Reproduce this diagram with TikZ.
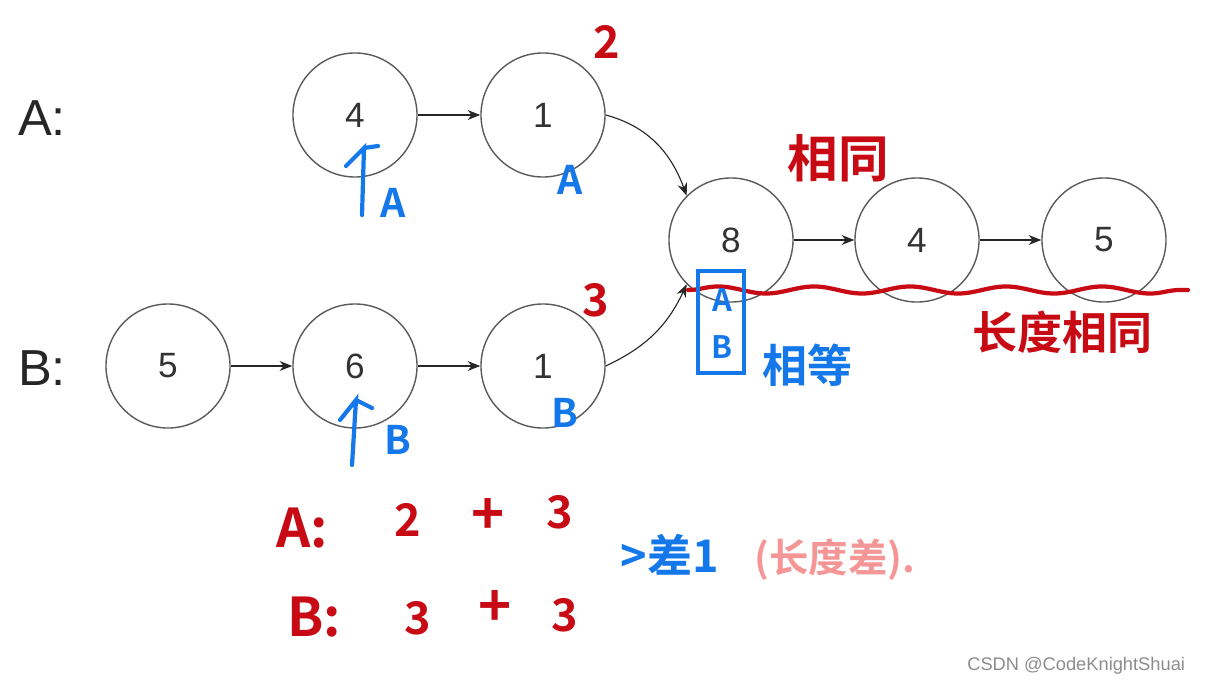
\documentclass[tikz,border=0pt]{standalone}
\usepackage{fontspec}
\setmainfont{Liberation Sans}
\newfontfamily\cjk{Noto Sans CJK SC}[BoldFont={Noto Sans CJK SC Bold}]
\usetikzlibrary{arrows.meta}
\usetikzlibrary{decorations.pathmorphing}

\definecolor{inkred}{RGB}{200,10,20}
\definecolor{inkblue}{RGB}{20,120,235}
\definecolor{inkpink}{RGB}{245,150,150}
\definecolor{ringgray}{RGB}{90,90,90}

\tikzset{
  listnode/.style={circle, draw=ringgray, line width=1pt, minimum size=3.1cm, inner sep=0pt, text=black!80, font=\fontsize{25}{25}\selectfont},
  link/.style={draw=black!85, line width=0.8pt, -{Stealth[length=9pt,width=7pt]}},
  redhand/.style={text=inkred, font=\cjk\bfseries\fontsize{32}{32}\selectfont, inner sep=0pt},
  bluehand/.style={text=inkblue, font=\cjk\bfseries\fontsize{28}{28}\selectfont, inner sep=0pt},
}

\begin{document}
\begin{tikzpicture}[x=0.025cm, y=-0.025cm]
  \useasboundingbox (0,0) rectangle (1206,690);
  % list nodes
  \node[listnode] (a4) at (355,115) {4};
  \node[listnode] (a1) at (543,115) {1};
  \node[listnode] (b5) at (168,366) {5};
  \node[listnode] (b6) at (355,366) {6};
  \node[listnode] (b1) at (543,366) {1};
  \node[listnode] (c8) at (731,240) {8};
  \node[listnode] (c4) at (917,240) {4};
  \node[listnode] (c5) at (1104,240) {5};
  \node[text=black!85, font=\fontsize{36}{36}\selectfont] (labA) at (42,118) {A:};
  \node[text=black!85, font=\fontsize{36}{36}\selectfont] (labB) at (42,368) {B:};
  % links
  \draw[link] (a4) -- (a1);
  \draw[link] (b5) -- (b6);
  \draw[link] (b6) -- (b1);
  \draw[link] (c8) -- (c4);
  \draw[link] (c4) -- (c5);
  \draw[link] (a1.east) to[out=-15, in=110] (c8.135);
  \draw[link] (b1.east) to[out=25, in=-115] (c8.225);
  % red notes
  \node[redhand] (lenA) at (607,42) {2};
  \node[redhand] (lenB) at (596,300) {3};
  \node[redhand, font=\cjk\bfseries\fontsize{36}{36}\selectfont] (same) at (838,158) {相同};
  \node[redhand] (samelen) at (1062,332) {长度相同};
  \coordinate (waveL) at (688,290);
  \coordinate (waveR) at (1188,290);
  \draw[inkred, line width=3pt, line cap=round, decorate, decoration={snake, amplitude=2.5pt, segment length=2.4cm}] (waveL) -- (waveR);
  % blue pointers
  \node[bluehand] (ptrA1) at (393,203) {A};
  \node[bluehand] (ptrA2) at (570,180) {A};
  \node[bluehand] (ptrB1) at (398,440) {B};
  \node[bluehand] (ptrB2) at (565,413) {B};
  \coordinate (upA) at (362,215);
  \coordinate (upB) at (352,465);
  \draw[inkblue, line width=3pt, line cap=round] (upA) -- ++(2,-67) -- ++(-18,18) (upA) ++(2,-67) -- ++(14,-2);
  \draw[inkblue, line width=3pt, line cap=round] (upB) -- ++(4,-65) -- ++(-16,20) (upB) ++(4,-65) -- ++(16,8);
  \node[draw=inkblue, line width=3pt, minimum width=1.15cm, minimum height=2.55cm, inner sep=0pt] (meet) at (721,322) {};
  \node[bluehand, font=\cjk\bfseries\fontsize{22}{22}\selectfont] (meetA) at (722,300) {A};
  \node[bluehand, font=\cjk\bfseries\fontsize{22}{22}\selectfont] (meetB) at (722,347) {B};
  \node[bluehand, font=\cjk\bfseries\fontsize{32}{32}\selectfont] (equal) at (807,365) {相等};
  % sums
  \node[redhand, font=\cjk\bfseries\fontsize{38}{38}\selectfont] (sumA) at (302,528) {A:};
  \node[redhand] (sumA2) at (408,520) {2};
  \node[redhand, font=\cjk\bfseries\fontsize{40}{40}\selectfont] (sumAp) at (488,516) {+};
  \node[redhand] (sumA3) at (560,512) {3};
  \node[redhand, font=\cjk\bfseries\fontsize{38}{38}\selectfont] (sumB) at (314,617) {B:};
  \node[redhand] (sumB3) at (418,618) {3};
  \node[redhand, font=\cjk\bfseries\fontsize{40}{40}\selectfont] (sumBp) at (495,608) {+};
  \node[redhand] (sumB3b) at (565,615) {3};
  \node[bluehand, font=\cjk\bfseries\fontsize{32}{32}\selectfont] (diff) at (670,555) {>差1};
  \node[text=inkpink, font=\cjk\bfseries\fontsize{28}{28}\selectfont, inner sep=0pt] (difflen) at (835,560) {(长度差).};
  \node[text=black!45, font=\fontsize{13}{13}\selectfont, anchor=east] (mark) at (1190,666) {CSDN @CodeKnightShuai};
\end{tikzpicture}
\end{document}
